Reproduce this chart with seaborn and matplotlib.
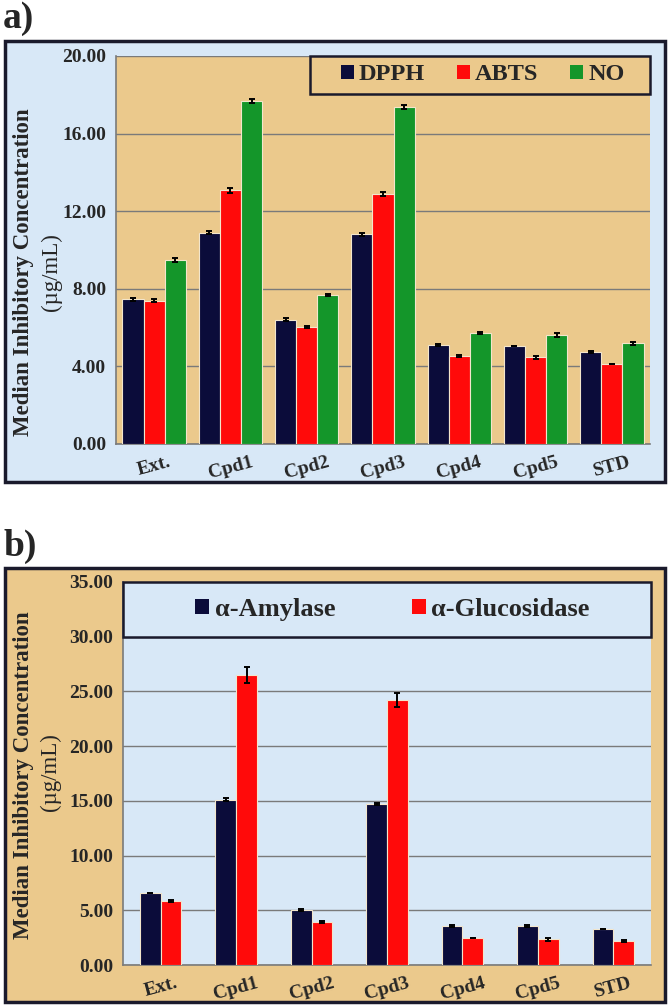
import numpy as np
import pandas as pd
import matplotlib
matplotlib.use("Agg")
import matplotlib.pyplot as plt
import seaborn as sns
from matplotlib.patches import Rectangle, Patch

# ---------------- data ----------------
categories = ["Ext.", "Cpd1", "Cpd2", "Cpd3", "Cpd4", "Cpd5", "STD"]

# panel a (antioxidant)
dpph = [7.45, 10.90, 6.40, 10.80, 5.12, 5.06, 4.75]
abts = [7.38, 13.07, 6.02, 12.90, 4.53, 4.46, 4.14]
no_ = [9.48, 17.67, 7.68, 17.35, 5.72, 5.63, 5.19]
dpph_err = [0.08, 0.08, 0.07, 0.07, 0.06, 0.00, 0.05]
abts_err = [0.08, 0.12, 0.06, 0.10, 0.06, 0.06, 0.00]
no_err = [0.12, 0.10, 0.07, 0.10, 0.06, 0.10, 0.08]
series_a = ["DPPH", "ABTS", "NO"]

# panel b (enzyme inhibition)
amylase = [6.55, 15.10, 5.02, 14.70, 3.59, 3.56, 3.27]
glucosidase = [5.84, 26.50, 3.90, 24.25, 2.43, 2.35, 2.20]
amylase_err = [0.00, 0.12, 0.12, 0.12, 0.10, 0.08, 0.00]
glucosidase_err = [0.08, 0.75, 0.08, 0.65, 0.00, 0.12, 0.10]
series_b = ["\u03b1-Amylase", "\u03b1-Glucosidase"]

yticks_a = [0, 4, 8, 12, 16, 20]
yticks_b = [0, 5, 10, 15, 20, 25, 30, 35]

# ---------------- style ----------------
sns.set_style("white")
plt.rcParams["font.family"] = ["Liberation Serif", "DejaVu Serif"]

NAVY = "#0b0c3a"
RED = "#ff0a0a"
GREEN = "#14962a"
TAN = "#ebc98c"
BLUE = "#d8e8f7"
FRAME = "#1a1a2c"

W, H = 668, 1007
fig = plt.figure(figsize=(W / 100, H / 100), dpi=100)


def fx(px):
    return px / W


def fy(py):
    return 1 - py / H


# outer frames
fig.patches.append(Rectangle((fx(5), fy(482)), fx(660), (482 - 41) / H,
                             transform=fig.transFigure, facecolor=BLUE,
                             edgecolor=FRAME, lw=2.5, zorder=-10))
fig.patches.append(Rectangle((fx(5), fy(1002)), fx(660), (1002 - 568) / H,
                             transform=fig.transFigure, facecolor=TAN,
                             edgecolor=FRAME, lw=2.5, zorder=-10))

fig.text(fx(3), fy(19), "a)", fontsize=27, fontweight="bold", va="center", ha="left")
fig.text(fx(3), fy(546), "b)", fontsize=27, fontweight="bold", va="center", ha="left")


def draw_panel(rect, values, errs, names, colors, width, yticks, bgcol):
    ax = fig.add_axes(rect)
    ax.set_facecolor(bgcol)
    rows = []
    for name, vals in zip(names, values):
        for c, v in zip(categories, vals):
            rows.append({"cat": c, "series": name, "val": v})
    df = pd.DataFrame(rows)
    sns.barplot(data=df, x="cat", y="val", hue="series", order=categories,
                hue_order=names, palette=colors, width=width, ax=ax,
                edgecolor="#f3e6cc", linewidth=0.8, saturation=1, errorbar=None,
                legend=False, zorder=3)
    for cont, er in zip(ax.containers, errs):
        xs = [b.get_x() + b.get_width() / 2 for b in cont]
        ys = [b.get_height() for b in cont]
        ax.errorbar(xs, ys, yerr=er, fmt="none", ecolor="black", elinewidth=1.4,
                    capsize=2, capthick=1.4, zorder=4)
    ax.set_ylim(yticks[0], yticks[-1])
    ax.set_xlim(-0.5, len(categories) - 0.5)
    ax.set_yticks(yticks)
    ax.set_yticklabels([f"{t:.2f}" for t in yticks], fontsize=14, fontweight="bold")
    ax.yaxis.grid(True, color="#7a7a7a", lw=1, zorder=1)
    ax.set_axisbelow(True)
    ax.set_xticks(np.arange(len(categories)))
    ax.set_xticklabels(categories, fontsize=14, fontweight="bold", rotation=15)
    ax.tick_params(axis="x", length=0, pad=7)
    ax.set_xticks(np.arange(len(categories) + 1) - 0.5, minor=True)
    ax.tick_params(axis="x", which="minor", length=5, color="#7a7a7a", direction="out")
    ax.tick_params(axis="y", length=5, color="#7a7a7a", direction="out", pad=2)
    ax.set_xlabel("")
    ax.set_ylabel("")
    for s in ["top", "right"]:
        ax.spines[s].set_visible(False)
    for s in ["left", "bottom"]:
        ax.spines[s].set_color("#7a7a7a")
        ax.spines[s].set_linewidth(1.2)
    return ax


# ---------------- panel a ----------------
axa = draw_panel([fx(116), fy(444), fx(650 - 116), (444 - 56) / H],
                 [dpph, abts, no_], [dpph_err, abts_err, no_err],
                 series_a, [NAVY, RED, GREEN], 0.83, yticks_a, TAN)
x0 = (310 - 116) / (650 - 116)
y0 = 1 - (94 - 56) / (444 - 56)
axa.add_patch(Rectangle((x0, y0), 1 - x0, 1 - y0, transform=axa.transAxes,
                        facecolor=TAN, edgecolor=FRAME, lw=1.8, zorder=5, clip_on=False))
handles_a = [Patch(facecolor=c, edgecolor="none") for c in [NAVY, RED, GREEN]]
axa.legend(handles_a, series_a, loc="center", bbox_to_anchor=((x0 + 1) / 2 + 0.005, (y0 + 1) / 2),
           ncol=3, frameon=False, prop={"weight": "bold", "size": 17.5},
           handlelength=0.55, handleheight=0.55, handletextpad=0.2,
           columnspacing=1.3).set_zorder(6)

fig.text(fx(24), fy(272), "Median Inhibitory Concentration", rotation=90,
         fontsize=16.5, fontweight="bold", ha="center", va="center")
fig.text(fx(51), fy(272), "(\u00b5g/mL)", rotation=90, fontsize=16.5,
         ha="center", va="center")

# ---------------- panel b ----------------
axb = draw_panel([fx(123), fy(965), fx(651 - 123), (965 - 582) / H],
                 [amylase, glucosidase], [amylase_err, glucosidase_err],
                 series_b, [NAVY, RED], 0.55, yticks_b, BLUE)
axb.add_patch(Rectangle((-0.5, 30), len(categories), 5, facecolor=BLUE,
                        edgecolor=FRAME, lw=1.8, zorder=5, clip_on=False))
handles_b = [Patch(facecolor=c, edgecolor="none") for c in [NAVY, RED]]
axb.legend(handles_b, series_b, loc="center", bbox_to_anchor=(0.51, 32.5 / 35),
           ncol=2, frameon=False, prop={"weight": "bold", "size": 19},
           handlelength=0.55, handleheight=0.55, handletextpad=0.2,
           columnspacing=2.9).set_zorder(6)

fig.text(fx(24), fy(775), "Median Inhibitory Concentration", rotation=90,
         fontsize=16.5, fontweight="bold", ha="center", va="center")
fig.text(fx(50), fy(772), "(\u00b5g/mL)", rotation=90, fontsize=16.5,
         ha="center", va="center")

fig.savefig("out.png", dpi=100)
